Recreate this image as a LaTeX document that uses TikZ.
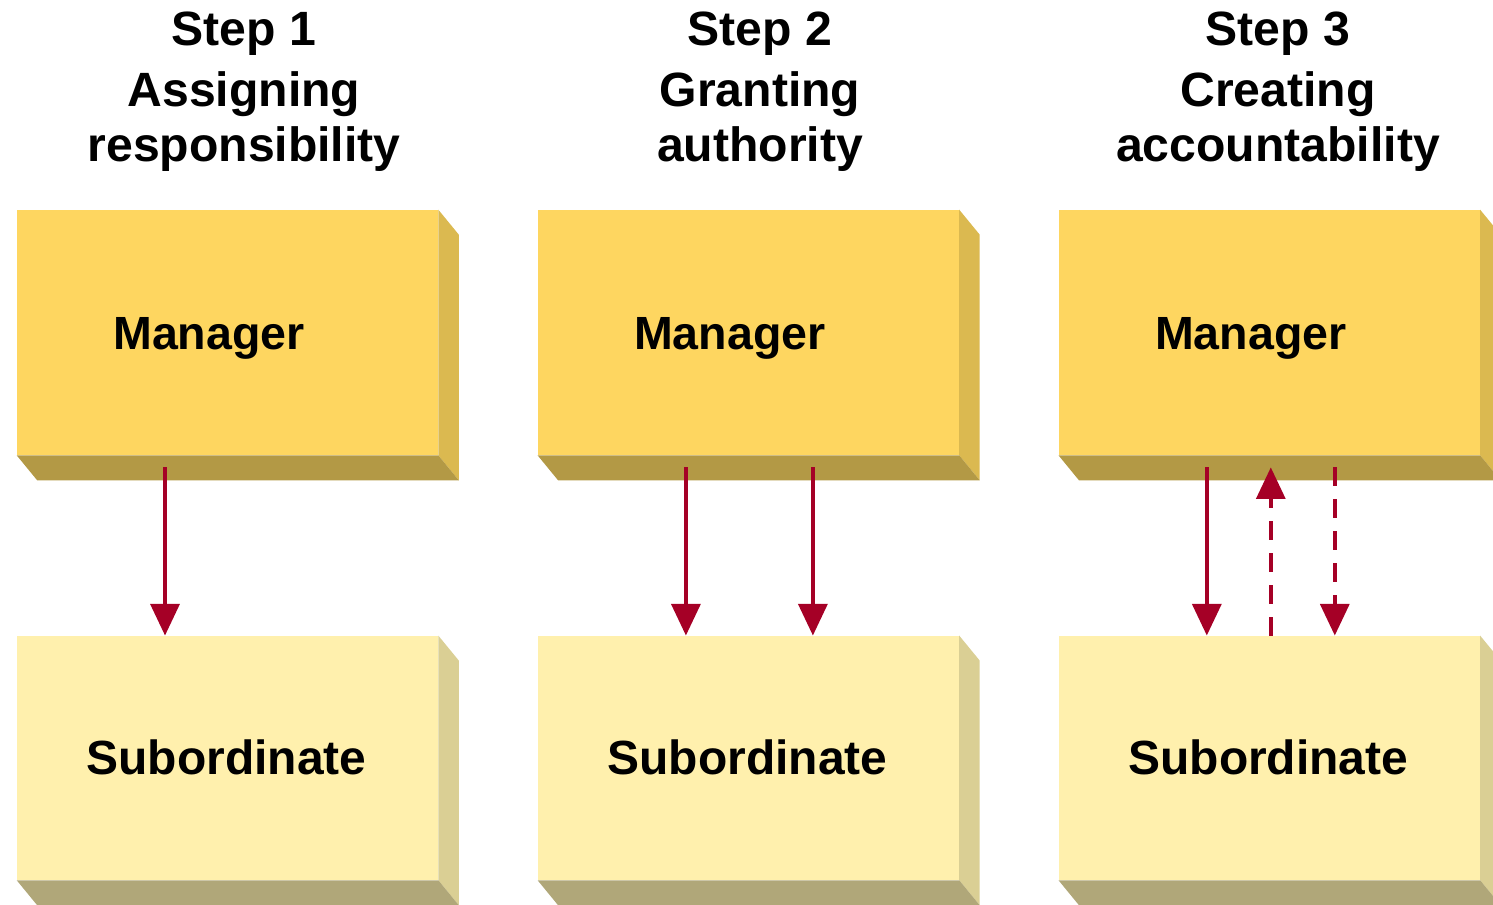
\documentclass[tikz,border=0pt]{standalone}
\usepackage{fontspec}
\setmainfont{Liberation Sans}
\usepackage{xcolor}
\usetikzlibrary{calc}
\usetikzlibrary{arrows.meta}
\definecolor{mgrfront}{HTML}{FED660}
\definecolor{mgrright}{HTML}{DBB950}
\definecolor{mgrbottom}{HTML}{B39945}
\definecolor{subfront}{HTML}{FFF0AD}
\definecolor{subright}{HTML}{DACF94}
\definecolor{subbottom}{HTML}{B0A779}
\definecolor{arrowred}{HTML}{A50026}
\tikzset{mgrbox/.style={fill=mgrfront, minimum width=8.42cm, minimum height=4.9cm, inner sep=0pt}}
\tikzset{subbox/.style={fill=subfront, minimum width=8.42cm, minimum height=4.88cm, inner sep=0pt}}
\tikzset{boxlabel/.style={anchor=base, inner sep=0pt, font=\fontsize{26.5pt}{31pt}\selectfont\bfseries}}
\tikzset{steptitle/.style={anchor=north, align=center, inner sep=0pt, font=\fontsize{27.4pt}{31.2pt}\selectfont\bfseries}}
\tikzset{redarrow/.style={draw=arrowred, line width=2.5pt, -{Triangle[length=18pt,width=16.3pt]}}}
\tikzset{redhalf/.style={redarrow, dash pattern=on 10.8pt off 7.4pt}}

\begin{document}
\begin{tikzpicture}[x=0.02cm, y=-0.02cm]
    \useasboundingbox (0,0) rectangle (1493,905);

    % manager boxes
    \node[mgrbox] at (227.5,332.5) (m1){};
    \node[mgrbox] at ([xshift = 10.42cm]m1) (m2){};
    \node[mgrbox] at ([xshift = 10.42cm]m2) (m3){};

    % subordinate boxes
    \node[subbox] at ([yshift = -8.51cm]m1) (s1){};
    \node[subbox] at ([yshift = -8.51cm]m2) (s2){};
    \node[subbox] at ([yshift = -8.51cm]m3) (s3){};

    % bevels
    \fill[mgrright] (m1.north east) -- ++(20.5,25) -- ($(m1.south east)+(20.5,25)$) -- (m1.south east) -- cycle;
    \fill[mgrbottom] (m1.south west) -- (m1.south east) -- ++(20.5,25) -- ($(m1.south west)+(20.5,25)$) -- cycle;
    \fill[mgrright] (m2.north east) -- ++(20.5,25) -- ($(m2.south east)+(20.5,25)$) -- (m2.south east) -- cycle;
    \fill[mgrbottom] (m2.south west) -- (m2.south east) -- ++(20.5,25) -- ($(m2.south west)+(20.5,25)$) -- cycle;
    \fill[mgrright] (m3.north east) -- ++(20.5,25) -- ($(m3.south east)+(20.5,25)$) -- (m3.south east) -- cycle;
    \fill[mgrbottom] (m3.south west) -- (m3.south east) -- ++(20.5,25) -- ($(m3.south west)+(20.5,25)$) -- cycle;
    \fill[subright] (s1.north east) -- ++(20.5,25) -- ($(s1.south east)+(20.5,25)$) -- (s1.south east) -- cycle;
    \fill[subbottom] (s1.south west) -- (s1.south east) -- ++(20.5,25) -- ($(s1.south west)+(20.5,25)$) -- cycle;
    \fill[subright] (s2.north east) -- ++(20.5,25) -- ($(s2.south east)+(20.5,25)$) -- (s2.south east) -- cycle;
    \fill[subbottom] (s2.south west) -- (s2.south east) -- ++(20.5,25) -- ($(s2.south west)+(20.5,25)$) -- cycle;
    \fill[subright] (s3.north east) -- ++(20.5,25) -- ($(s3.south east)+(20.5,25)$) -- (s3.south east) -- cycle;
    \fill[subbottom] (s3.south west) -- (s3.south east) -- ++(20.5,25) -- ($(s3.south west)+(20.5,25)$) -- cycle;

    \node[boxlabel] at ([xshift = -0.37cm, yshift = -0.35cm]m1.center) (ml1){Manager};
    \node[boxlabel] at ([xshift = -0.37cm, yshift = -0.35cm]m2.center) (ml2){Manager};
    \node[boxlabel] at ([xshift = -0.37cm, yshift = -0.35cm]m3.center) (ml3){Manager};
    \node[boxlabel, font=\fontsize{27.3pt}{31pt}\selectfont\bfseries] at ([xshift = -0.02cm, yshift = -0.34cm]s1.center) (sl1){Subordinate};
    \node[boxlabel, font=\fontsize{27.3pt}{31pt}\selectfont\bfseries] at ([xshift = -0.02cm, yshift = -0.34cm]s2.center) (sl2){Subordinate};
    \node[boxlabel, font=\fontsize{27.3pt}{31pt}\selectfont\bfseries] at ([xshift = -0.02cm, yshift = -0.34cm]s3.center) (sl3){Subordinate};

    \node[steptitle] at (244,12) (t1){Step 1\\[3.3pt]Assigning\\responsibility};
    \node[steptitle] at (760,12) (t2){Step 2\\[3.3pt]Granting\\authority};
    \node[steptitle] at (1278,12) (t3){Step 3\\[3.3pt]Creating\\accountability};

    \draw[redarrow] ([xshift = -1.25cm, yshift = -0.24cm]m1.south) -- ([xshift = -1.25cm]s1.north);
    \draw[redarrow] ([xshift = -1.25cm, yshift = -0.24cm]m2.south) -- ([xshift = -1.25cm]s2.north);
    \draw[redarrow] ([xshift = 1.29cm, yshift = -0.24cm]m2.south) -- ([xshift = 1.29cm]s2.north);
    \draw[redarrow] ([xshift = -1.25cm, yshift = -0.24cm]m3.south) -- ([xshift = -1.25cm]s3.north);
    \draw[redhalf] ([xshift = 0.03cm]s3.north) -- ([xshift = 0.03cm, yshift = -0.24cm]m3.south);
    \draw[redhalf] ([xshift = 1.31cm, yshift = -0.24cm]m3.south) -- ([xshift = 1.31cm]s3.north);
  \end{tikzpicture}
\end{document}
